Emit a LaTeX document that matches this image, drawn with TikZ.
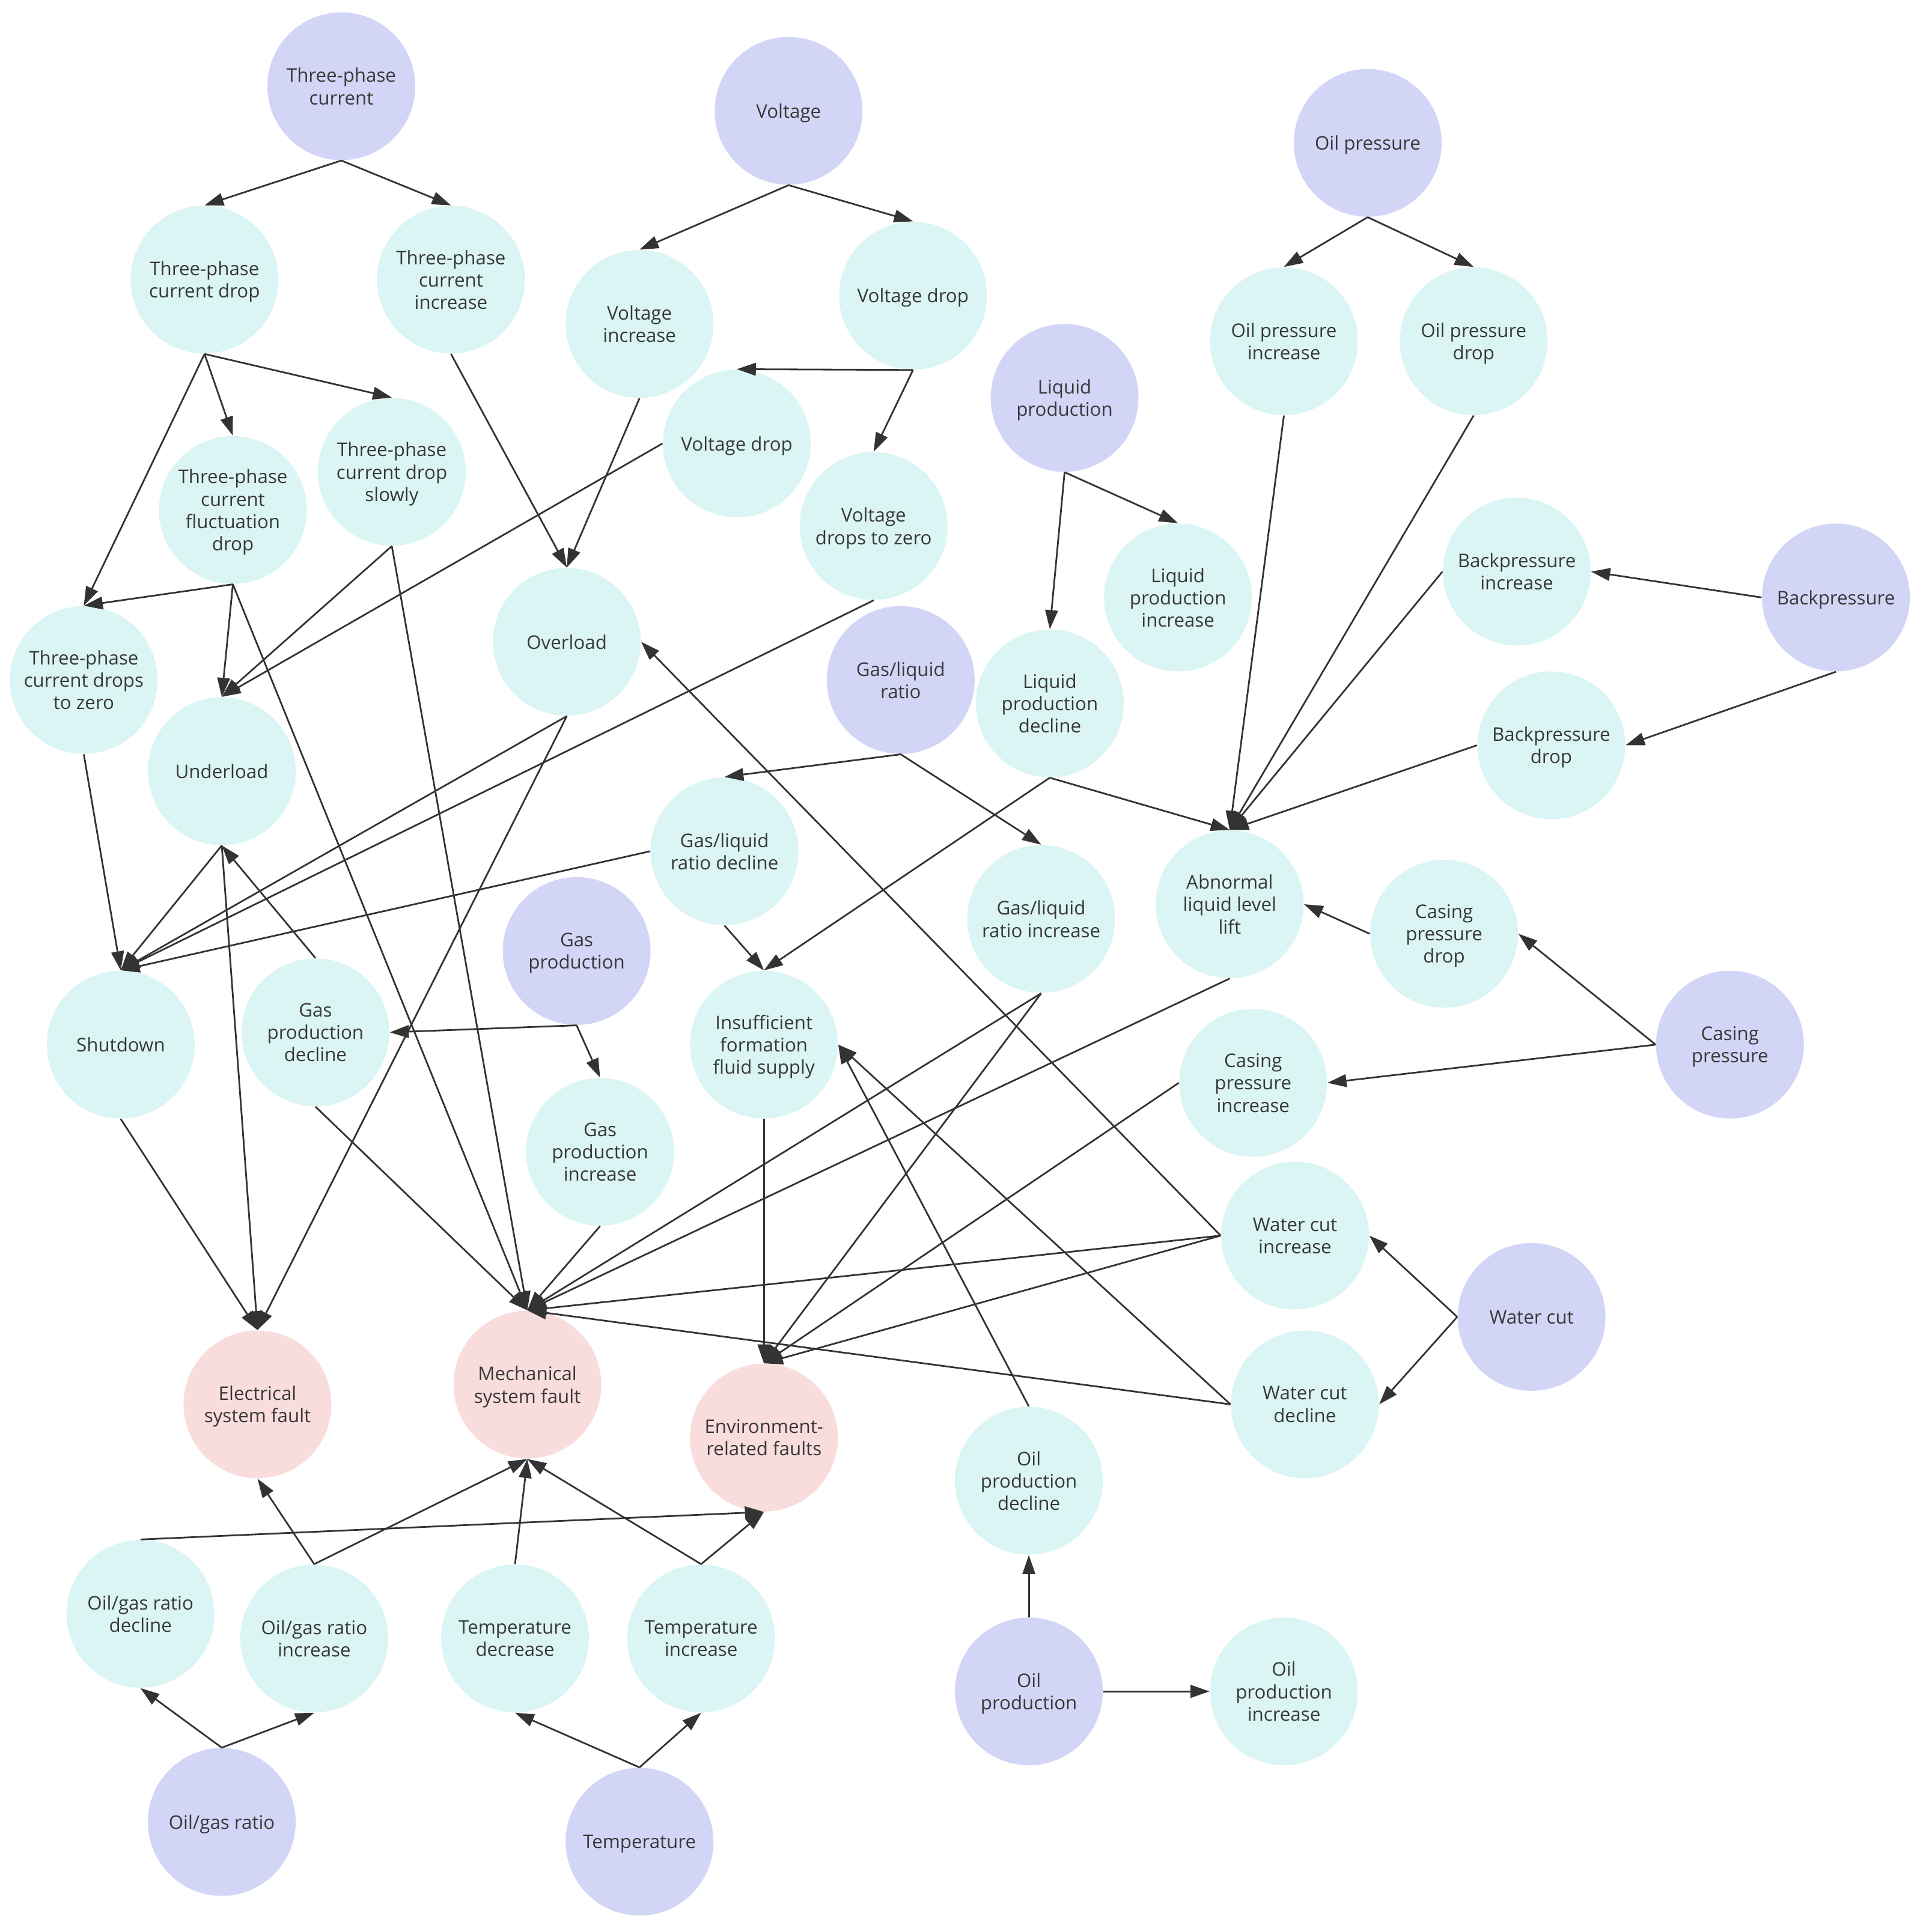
\documentclass[tikz,border=0pt]{standalone}
\usepackage{fontspec}
\setmainfont{Open Sans}
\usetikzlibrary{arrows.meta}
\definecolor{pur}{HTML}{D3D5F7}
\definecolor{cya}{HTML}{DAF5F4}
\definecolor{pnk}{HTML}{F9DCDC}
\definecolor{ln}{HTML}{333333}
\definecolor{tx}{HTML}{383838}
\begin{document}
\begin{tikzpicture}[x=0.020504cm, y=-0.020504cm,
  nd/.style={circle, minimum size=2.46cm, inner sep=0pt, align=center,
    font=\fontsize{8.9}{10.6}\selectfont, text=tx, text depth=0pt},
  pv/.style={nd, fill=pur}, cv/.style={nd, fill=cya}, fv/.style={nd, fill=pnk},
  ar/.style={draw=ln, line width=0.8pt, -{Triangle[length=9pt,width=6pt]}}]
\fill[white] (0,0) rectangle (1568,1562.6);
\useasboundingbox (0,0) rectangle (1568,1562.6);
% source nodes
\node[pv] (tpc) at (277,70) {Three-phase\\current};
\node[pv] (volt) at (640,90) {Voltage};
\node[pv] (oilp) at (1110,116) {Oil pressure};
\node[pv] (liq) at (864,323) {Liquid\\production};
\node[pv] (bp) at (1490,485) {Backpressure};
\node[pv] (glr) at (731,552) {Gas/liquid\\ratio};
\node[pv] (gas) at (468,772) {Gas\\production};
\node[pv] (casp) at (1404,848) {Casing\\pressure};
\node[pv] (wc) at (1243,1069) {Water cut};
\node[pv] (oilprod) at (835,1373) {Oil\\production};
\node[pv] (ogr) at (180,1479) {Oil/gas ratio};
\node[pv] (temp) at (519,1495) {Temperature};
% intermediate nodes
\node[cv] (tpcd) at (166,227) {Three-phase\\current drop};
\node[cv] (tpci) at (366,227) {Three-phase\\current\\increase};
\node[cv] (vi) at (519,263) {Voltage\\increase};
\node[cv] (vd) at (741,240) {Voltage drop};
\node[cv] (opi) at (1042,277) {Oil pressure\\increase};
\node[cv] (opd) at (1196,277) {Oil pressure\\drop};
\node[cv] (vd2) at (598,360) {Voltage drop};
\node[cv] (vdz) at (709,427) {Voltage\\drops to zero};
\node[cv] (tpcfd) at (189,414) {Three-phase\\current\\fluctuation\\drop};
\node[cv] (tpcds) at (318,383) {Three-phase\\current drop\\slowly};
\node[cv] (lpi) at (956,485) {Liquid\\production\\increase};
\node[cv] (bpi) at (1231,464) {Backpressure\\increase};
\node[cv] (ovl) at (460,521) {Overload};
\node[cv] (tpcdz) at (68,552) {Three-phase\\current drops\\to zero};
\node[cv] (lpd) at (852,571) {Liquid\\production\\decline};
\node[cv] (ul) at (180,626) {Underload};
\node[cv] (bpd) at (1259,605) {Backpressure\\drop};
\node[cv] (glrd) at (588,691) {Gas/liquid\\ratio decline};
\node[cv] (glri) at (845,746) {Gas/liquid\\ratio increase};
\node[cv] (alll) at (998,734) {Abnormal\\liquid level\\lift};
\node[cv] (cpd) at (1172,758) {Casing\\pressure\\drop};
\node[cv] (sd) at (98,848) {Shutdown};
\node[cv] (gpd) at (256,838) {Gas\\production\\decline};
\node[cv] (iffs) at (620,848) {Insufficient\\formation\\fluid supply};
\node[cv] (cpi) at (1017,879) {Casing\\pressure\\increase};
\node[cv] (gpi) at (487,935) {Gas\\production\\increase};
\node[cv] (wci) at (1051,1003) {Water cut\\increase};
\node[cv] (wcd) at (1059,1140) {Water cut\\decline};
\node[cv] (opdec) at (835,1202) {Oil\\production\\decline};
\node[cv] (ogrd) at (114,1310) {Oil/gas ratio\\decline};
\node[cv] (ogri) at (255,1330) {Oil/gas ratio\\increase};
\node[cv] (tdec) at (418,1330) {Temperature\\decrease};
\node[cv] (tinc) at (569,1330) {Temperature\\increase};
\node[cv] (opinc) at (1042,1373) {Oil\\production\\increase};
% fault nodes
\node[fv] (esf) at (209,1140) {Electrical\\system fault};
\node[fv] (msf) at (428,1124) {Mechanical\\system fault};
\node[fv] (erf) at (620,1167) {Environment-\\related faults};
% connectors
\draw[ar] (tpc.south) -- (tpcd.north);
\draw[ar] (tpc.south) -- (tpci.north);
\draw[ar] (volt.south) -- (vi.north);
\draw[ar] (volt.south) -- (vd.north);
\draw[ar] (oilp.south) -- (opi.north);
\draw[ar] (oilp.south) -- (opd.north);
\draw[ar] (tpcd.south) -- (tpcfd.north);
\draw[ar] (tpcd.south) -- (tpcds.north);
\draw[ar] (tpcd.south) -- (tpcdz.north);
\draw[ar] (tpcfd.south) -- (tpcdz.north);
\draw[ar] (tpcfd.south) -- (ul.north);
\draw[ar] (tpcfd.south) -- (msf.north);
\draw[ar] (tpcds.south) -- (ul.north);
\draw[ar] (tpcds.south) -- (msf.north);
\draw[ar] (vd.south) -- (vd2.north);
\draw[ar] (vd.south) -- (vdz.north);
\draw[ar] (vd2.west) -- (ul.north);
\draw[ar] (tpci.south) -- (ovl.north);
\draw[ar] (vi.south) -- (ovl.north);
\draw[ar] (liq.south) -- (lpi.north);
\draw[ar] (liq.south) -- (lpd.north);
\draw[ar] (bp.west) -- (bpi.east);
\draw[ar] (bp.south) -- (bpd.east);
\draw[ar] (glr.south) -- (glrd.north);
\draw[ar] (glr.south) -- (glri.north);
\draw[ar] (ovl.south) -- (sd.north);
\draw[ar] (ovl.south) -- (esf.north);
\draw[ar] (vdz.south) -- (sd.north);
\draw[ar] (glrd.west) -- (sd.north);
\draw[ar] (ul.south) -- (sd.north);
\draw[ar] (tpcdz.south) -- (sd.north);
\draw[ar] (gpd.north) -- (ul.south);
\draw[ar] (ul.south) -- (esf.north);
\draw[ar] (sd.south) -- (esf.north);
\draw[ar] (gas.south) -- (gpd.east);
\draw[ar] (gas.south) -- (gpi.north);
\draw[ar] (gpd.south) -- (msf.north);
\draw[ar] (gpi.south) -- (msf.north);
\draw[ar] (lpd.south) -- (alll.north);
\draw[ar] (lpd.south) -- (iffs.north);
\draw[ar] (glrd.south) -- (iffs.north);
\draw[ar] (opi.south) -- (alll.north);
\draw[ar] (opd.south) -- (alll.north);
\draw[ar] (bpi.west) -- (alll.north);
\draw[ar] (bpd.west) -- (alll.north);
\draw[ar] (cpd.west) -- (alll.east);
\draw[ar] (casp.west) -- (cpd.east);
\draw[ar] (casp.west) -- (cpi.east);
\draw[ar] (wc.west) -- (wci.east);
\draw[ar] (wc.west) -- (wcd.east);
\draw[ar] (glri.south) -- (msf.north);
\draw[ar] (glri.south) -- (erf.north);
\draw[ar] (alll.south) -- (msf.north);
\draw[ar] (cpi.west) -- (erf.north);
\draw[ar] (wci.west) -- (msf.north);
\draw[ar] (wci.west) -- (erf.north);
\draw[ar] (wci.west) -- (ovl.east);
\draw[ar] (wcd.west) -- (msf.north);
\draw[ar] (wcd.west) -- (iffs.east);
\draw[ar] (opdec.north) -- (iffs.east);
\draw[ar] (iffs.south) -- (erf.north);
\draw[ar] (oilprod.north) -- (opdec.south);
\draw[ar] (oilprod.east) -- (opinc.west);
\draw[ar] (ogr.north) -- (ogrd.south);
\draw[ar] (ogr.north) -- (ogri.south);
\draw[ar] (temp.north) -- (tdec.south);
\draw[ar] (temp.north) -- (tinc.south);
\draw[ar] (ogrd.north) -- (erf.south);
\draw[ar] (ogri.north) -- (esf.south);
\draw[ar] (ogri.north) -- (msf.south);
\draw[ar] (tdec.north) -- (msf.south);
\draw[ar] (tinc.north) -- (msf.south);
\draw[ar] (tinc.north) -- (erf.south);
\end{tikzpicture}
\end{document}
